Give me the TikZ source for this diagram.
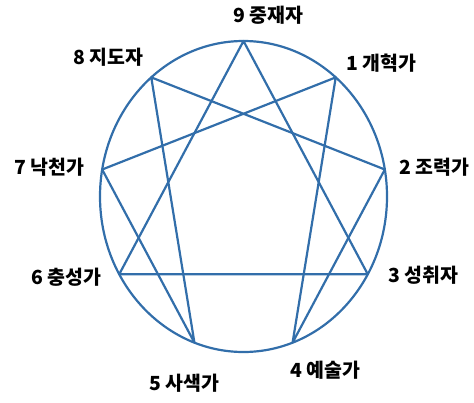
\documentclass[tikz,border=0pt]{standalone}
\usepackage{fontspec}
\newfontfamily\kr{Noto Sans CJK KR}
\usepackage{tikz}
\usetikzlibrary{positioning}
\definecolor{enneablue}{RGB}{50,110,170}

\begin{document}
\begin{tikzpicture}[x=1bp, y=1bp,
line/.style={draw=enneablue, line width=2.2bp, line join=round},
lbl/.style={font=\kr\bfseries\fontsize{19.5}{21}\selectfont, inner sep=0, anchor=center}
]
\useasboundingbox (0,0) rectangle (474,402);
% points on the ring
\foreach \n/\a in {9/90,1/50,2/10,3/-30,4/-70,5/-110,6/-150,7/170,8/130}
	\coordinate (p\n) at ({243.5+143.5*cos(\a)},{205.5+155.5*sin(\a)});
\draw[line] (243.5,205.5) ellipse [x radius=143.5, y radius=155.5];
\draw[line] (p9) -- (p3) -- (p6) -- cycle;
\draw[line] (p1) -- (p4) -- (p2) -- (p8) -- (p5) -- (p7) -- cycle;
% labels
\node[lbl] (l9) at (268,387) {9 중재자};
\node[lbl] (l1) at (381,339) {1 개혁가};
\node[lbl] (l2) at (434,235) {2 조력가};
\node[lbl] (l3) at (423.5,127) {3 성취자};
\node[lbl] (l4) at (325.5,32) {4 예술가};
\node[lbl] (l5) at (184,19) {5 사색가};
\node[lbl] (l6) at (66,125) {6 충성가};
\node[lbl] (l7) at (49,235) {7 낙천가};
\node[lbl] (l8) at (108.3,345) {8 지도자};
\end{tikzpicture}
\end{document}
